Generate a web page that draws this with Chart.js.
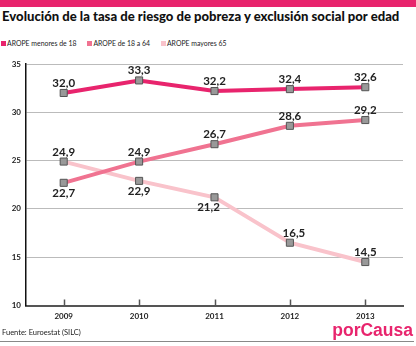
<!DOCTYPE html>
<html>
<head>
<meta charset="utf-8">
<script src="https://cdn.jsdelivr.net/npm/chart.js@4.4.0/dist/chart.umd.min.js"></script>
<style>
  body { margin: 0; background: #fff; font-family: Lato, "Open Sans", sans-serif; }
  #wrap { position: relative; width: 416px; height: 346px; overflow: hidden; }
  #band { position: absolute; left: 0; top: 0; width: 416px; height: 7px; background: #e8246d; }
  #title { position: absolute; left: 2px; top: 8px; font-size: 13.1px; font-weight: 900; color: #111; white-space: nowrap; }
  #legend { position: absolute; left: 1px; top: 39px; font-size: 6.9px; color: #222; white-space: nowrap; }
  #legend span.item { display: inline-block; margin-right: 11px; }
  #legend i { display: inline-block; width: 5px; height: 5px; margin-right: 1px; vertical-align: 0px; }
  #source { position: absolute; left: 2px; top: 328px; font-size: 7.5px; color: #222; }
  #rule { position: absolute; left: 0; top: 341px; width: 414px; height: 1px; background: #888; }
  #logo { position: absolute; right: 3px; top: 320px; font-family: "Liberation Sans", Arial, sans-serif; font-weight: bold; font-size: 17.5px; color: #e8246d; }
  canvas { position: absolute; left: 0; top: 0; }
</style>
</head>
<body>
<div id="wrap">
  <div id="band"></div>
  <div id="title">Evolución de la tasa de riesgo de pobreza y exclusión social por edad</div>
  <div id="legend"></div>
  <canvas id="chart" width="416" height="346"></canvas>
  <div id="source">Fuente: Euroestat (SILC)</div>
  <div id="rule"></div>
  <div id="logo">porCausa</div>
</div>
<script>
// años y tasas AROPE (%)
const years = ['2009', '2010', '2011', '2012', '2013'];
const menores18 = [32.0, 33.3, 32.2, 32.4, 32.6];
const de18a64 = [22.7, 24.9, 26.7, 28.6, 29.2];
const mayores65 = [24.9, 22.9, 21.2, 16.5, 14.5];
const seriesNames = ['AROPE menores de 18', 'AROPE de 18 a 64', 'AROPE mayores 65'];
const yTicks = [10, 15, 20, 25, 30, 35];

const colors = ['#e8246d', '#f07391', '#f9c3cb'];

// where each value label sits: 'a' above the point, 'b' below, plus x nudge
const labelPlace = [
  [['a', 0], ['a', 0], ['a', 0], ['a', 0], ['a', 0]],
  [['b', 0], ['a', 0], ['a', 0], ['a', 0], ['a', 0]],
  [['a', 0], ['b', 0], ['b', -6], ['a', 4], ['a', 0]]
];

// html legend
const legend = document.getElementById('legend');
seriesNames.forEach(function(name, i){
  const item = document.createElement('span');
  item.className = 'item';
  item.innerHTML = '<i style="background:' + colors[i] + '"></i>' + name;
  legend.appendChild(item);
});

const valueLabels = {
  id: 'valueLabels',
  afterDatasetsDraw: function(chart){
    const ctx = chart.ctx;
    ctx.save();
    ctx.font = 'bold 11.5px Lato';
    ctx.fillStyle = '#222';
    ctx.textAlign = 'center';
    ctx.textBaseline = 'alphabetic';
    chart.data.datasets.forEach(function(ds, i){
      chart.getDatasetMeta(i).data.forEach(function(pt, j){
        const place = labelPlace[i][j];
        const txt = ds.data[j].toFixed(1).replace('.', ',');
        const y = place[0] === 'a' ? pt.y - 6 : pt.y + 14;
        ctx.fillText(txt, pt.x + place[1], y);
      });
    });
    ctx.restore();
  }
};

// short tick marks standing up from the x axis
const axisTicks = {
  id: 'axisTicks',
  afterDraw: function(chart){
    const ctx = chart.ctx;
    const x = chart.scales.x;
    const bottom = chart.chartArea.bottom;
    ctx.save();
    ctx.strokeStyle = '#555';
    ctx.lineWidth = 1.5;
    years.forEach(function(y, i){
      const px = Math.round(x.getPixelForTick(i)) + 0.5;
      ctx.beginPath();
      ctx.moveTo(px, bottom);
      ctx.lineTo(px, bottom - 6);
      ctx.stroke();
    });
    ctx.restore();
  }
};

const ctx = document.getElementById('chart').getContext('2d');
new Chart(ctx, {
  type: 'line',
  data: {
    labels: years,
    datasets: [menores18, de18a64, mayores65].map(function(values, i){
      return {
        label: seriesNames[i],
        data: values,
        borderColor: colors[i],
        borderWidth: 4,
        tension: 0,
        pointStyle: 'rect',
        pointRadius: 5,
        pointBackgroundColor: '#999',
        pointBorderColor: '#555',
        pointBorderWidth: 1
      };
    })
  },
  options: {
    responsive: false,
    animation: false,
    layout: { padding: { top: 64, right: 13, bottom: 0, left: 0 } },
    plugins: {
      legend: { display: false },
      tooltip: { enabled: false }
    },
    scales: {
      x: {
        offset: true,
        grid: { display: false, drawTicks: false },
        border: { color: '#555', width: 2 },
        ticks: { color: '#222', padding: 6, font: { family: 'Lato', size: 8, weight: 'bold' } },
        afterFit: function(s){ s.height = 40.5; }
      },
      y: {
        min: 10,
        max: 35,
        afterBuildTicks: function(s){ s.ticks = yTicks.map(function(v){ return { value: v }; }); },
        grid: { color: '#bbb', lineWidth: 1, drawTicks: false },
        border: { color: '#111', width: 1.5 },
        ticks: { color: '#222', padding: 5, font: { family: 'Lato', size: 8, weight: 'bold' } },
        afterFit: function(s){ s.width = 26; }
      }
    }
  },
  plugins: [valueLabels, axisTicks]
});
</script>
</body>
</html>
